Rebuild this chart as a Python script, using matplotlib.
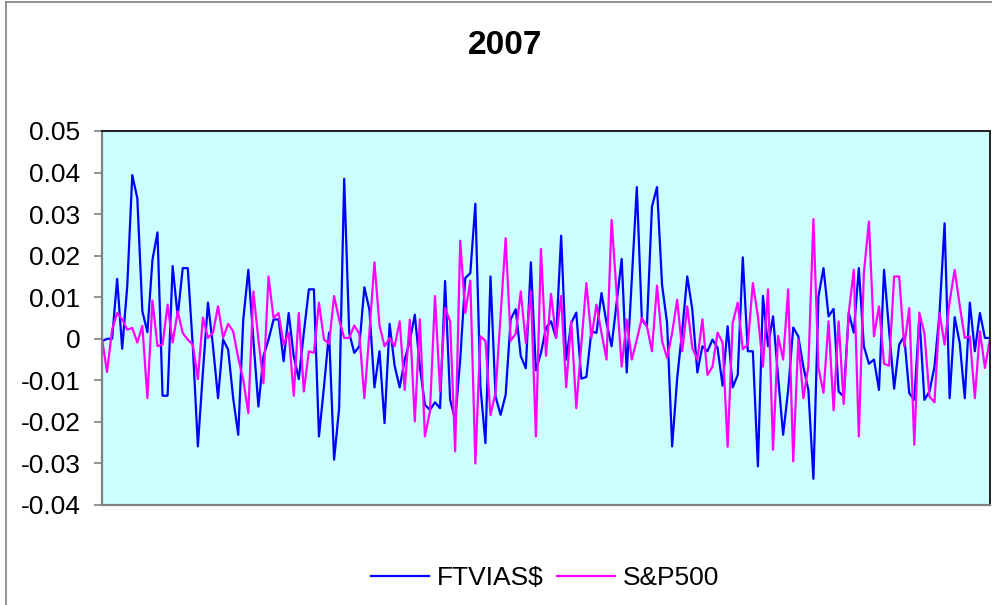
import matplotlib
matplotlib.use("Agg")
import matplotlib.pyplot as plt
from matplotlib.lines import Line2D

# daily returns 2007
ftvias = [
    -0.0006, 0.0, 0.0, 0.0144, -0.0024, 0.0126, 0.0394, 0.0338, 0.0066, 0.0016,
    0.019, 0.0256, -0.0137, -0.0137, 0.0175, 0.0054, 0.017, 0.017, -0.0018, -0.0259,
    -0.008, 0.0087, -0.0018, -0.0143, -0.0002, -0.0026, -0.0143, -0.0231, 0.0046, 0.0166,
    -0.0002, -0.0163, -0.0042, -0.0002, 0.0046, 0.0047, -0.0054, 0.0062, -0.0042, -0.0097,
    0.0014, 0.0119, 0.0119, -0.0235, -0.0115, 0.0015, -0.0291, -0.0167, 0.0385, 0.0014,
    -0.0034, -0.0018, 0.0124, 0.007, -0.0117, -0.003, -0.0203, 0.0036, -0.0065, -0.0117,
    -0.005, -0.0006, 0.0058, -0.0067, -0.0159, -0.0171, -0.0153, -0.0167, 0.0139, -0.0147,
    -0.0195, -0.005, 0.0146, 0.0158, 0.0325, -0.0115, -0.0251, 0.015, -0.0139, -0.0183,
    -0.0135, 0.0047, 0.0071, -0.0042, -0.0071, 0.0184, -0.0076, -0.0034, 0.0026, 0.0042,
    0.0002, 0.0248, -0.005, 0.0038, 0.0063, -0.0096, -0.0092, 0.0018, 0.0014, 0.011,
    0.0038, -0.0018, 0.0086, 0.0192, -0.0081, 0.0142, 0.0365, 0.0046, 0.003, 0.0318,
    0.0365, 0.013, 0.0038, -0.0259, -0.0095, 0.002, 0.015, 0.007, -0.0081, -0.0018,
    -0.003, -0.0002, -0.0022, -0.0113, 0.003, -0.0117, -0.0087, 0.0196, -0.003, -0.003,
    -0.0307, 0.0103, -0.0018, 0.0054, -0.0091, -0.0231, -0.0123, 0.0027, 0.0006, -0.0067,
    -0.0123, -0.0337, 0.0102, 0.017, 0.0054, 0.0072, -0.0127, -0.0139, 0.0062, 0.0015,
    0.017, -0.0018, -0.006, -0.005, -0.0123, 0.0166, 0.002, -0.012, -0.0014, 0.0006,
    -0.0131, -0.0147, 0.0054, -0.0147, -0.0127, -0.0067, 0.0062, 0.0278, -0.0143, 0.0052,
    -0.001, -0.0143, 0.0087, -0.003, 0.0062, 0.0002, 0.0002,
]

sp500 = [
    0.0, -0.008, 0.0022, 0.0062, 0.0047, 0.0022, 0.0026, -0.0009, 0.0031, -0.0143,
    0.0092, -0.0018, -0.0014, 0.0082, -0.0009, 0.0066, 0.0014, -0.0002, -0.0014, -0.0097,
    0.0051, 0.0002, 0.0015, 0.0078, 0.0002, 0.0036, 0.0018, -0.0046, -0.0099, -0.0179,
    0.0114, -0.0002, -0.0107, 0.015, 0.005, 0.0062, -0.0014, 0.0015, -0.0137, 0.0062,
    -0.0127, -0.003, -0.0034, 0.0087, -0.0002, -0.0012, 0.0103, 0.0046, 0.0002, 0.0002,
    0.0032, 0.0012, -0.0143, 0.0015, 0.0184, 0.0032, -0.0018, 0.0002, -0.0018, 0.0042,
    -0.0123, 0.0046, -0.0199, 0.0047, -0.0235, -0.0175, 0.0103, -0.0127, 0.0074, 0.0042,
    -0.0271, 0.0236, 0.0062, 0.014, -0.03, 0.0006, -0.0005, -0.0184, -0.013, 0.0056,
    0.0242, -0.0005, 0.0012, 0.0114, -0.001, 0.0114, -0.0235, 0.0216, -0.0041, 0.0108,
    0.0002, 0.0103, -0.0117, 0.0042, -0.0167, -0.0014, 0.0134, 0.0002, 0.0082, 0.0014,
    -0.005, 0.0286, 0.011, -0.0067, 0.0046, -0.005, -0.0002, 0.005, 0.003, -0.003,
    0.0128, -0.0006, -0.0046, 0.0014, 0.0094, -0.003, 0.0078, -0.0022, -0.005, 0.0047,
    -0.0087, -0.0067, 0.0015, -0.0009, -0.026, 0.0038, 0.0087, -0.0025, -0.0014, 0.0134,
    0.0054, -0.0067, 0.0119, -0.0267, 0.0007, -0.005, 0.0119, -0.0295, -0.0002, -0.0143,
    -0.0067, 0.0288, -0.007, -0.013, 0.0042, -0.0172, 0.0042, -0.0157, 0.0062, 0.0166,
    -0.0235, 0.0158, 0.0282, 0.0006, 0.0078, -0.006, -0.0065, 0.015, 0.015, -0.0018,
    0.0074, -0.0255, 0.0063, 0.0014, -0.0139, -0.0153, 0.0062, -0.0014, 0.009, 0.0166,
    0.008, 0.0002, 0.0006, -0.0143, 0.0018, -0.007, 0.0,
]

yticks = [-0.04, -0.03, -0.02, -0.01, 0, 0.01, 0.02, 0.03, 0.04, 0.05]
ylabels = ["-0.04", "-0.03", "-0.02", "-0.01", "0", "0.01", "0.02", "0.03", "0.04", "0.05"]

plt.rcParams["font.family"] = ["Liberation Sans", "DejaVu Sans"]

fig = plt.figure(figsize=(9.92, 6.05), dpi=100)
ax = fig.add_axes([102 / 992, 1 - 505 / 605, 888 / 992, 374 / 605])
ax.set_facecolor("#CCFFFF")

x = range(len(ftvias))
ax.plot(x, ftvias, color="#0000FF", lw=1.6, label="FTVIAS$")
ax.plot(x, sp500, color="#FF00FF", lw=1.6, label="S&P500")

ax.set_xlim(0, len(ftvias) - 1)
ax.set_ylim(-0.04, 0.05)
ax.set_yticks(yticks)
ax.set_yticklabels(ylabels)
ax.set_xticks([])
ax.tick_params(axis="y", length=6, width=1.2, color="#808080", pad=9.5, labelsize=19)

for side in ["left", "bottom"]:
    ax.spines[side].set_color("#808080")
    ax.spines[side].set_linewidth(1.6)
for side in ["top", "right"]:
    ax.spines[side].set_color("#202020")
    ax.spines[side].set_linewidth(1.4)

fig.text(0.509, 1 - 46 / 605, "2007", ha="center", va="center",
         fontsize=24, fontweight="bold")

fig.legend(loc="center", bbox_to_anchor=(545 / 992, 1 - 578 / 605), ncol=2,
           frameon=False, fontsize=19, handlelength=2.2, handletextpad=0.3,
           columnspacing=0.5, borderpad=0)

# outer chart border
fig.add_artist(Line2D([6 / 992, 6 / 992], [0, 1 - 2 / 605], color="#808080", lw=1.2))
fig.add_artist(Line2D([6 / 992, 1], [1 - 2 / 605, 1 - 2 / 605], color="#808080", lw=1.2))

fig.savefig("out.png", dpi=100, facecolor="white")
